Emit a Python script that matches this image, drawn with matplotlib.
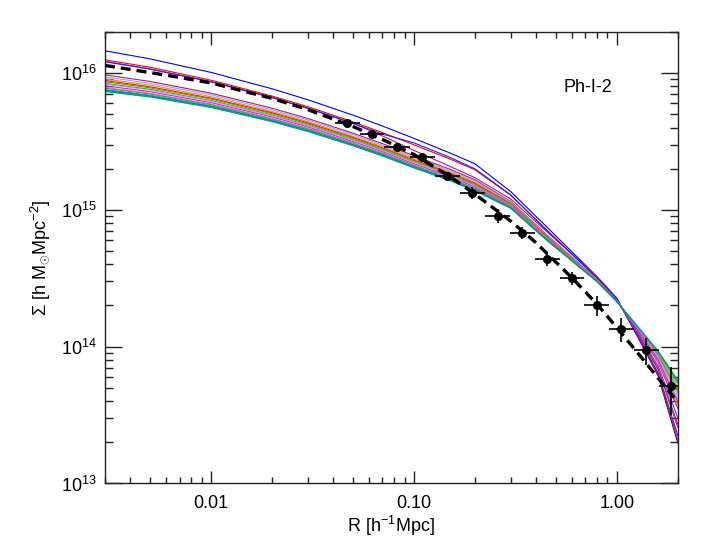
import numpy as np
import matplotlib
matplotlib.use("Agg")
import matplotlib.pyplot as plt
from matplotlib.ticker import FixedLocator, FixedFormatter, LogLocator, NullFormatter

plt.rcParams['font.family'] = ['Liberation Sans', 'DejaVu Sans']
plt.rcParams['mathtext.fontset'] = 'custom'
plt.rcParams['mathtext.rm'] = 'Liberation Sans'
plt.rcParams['mathtext.it'] = 'Liberation Sans:italic'

# ------------------------------
# data: stacked lensing profile
# ------------------------------
# measured points (R in h^-1 Mpc, Sigma in h Msun Mpc^-2)
r_pts = [0.047, 0.062, 0.083, 0.110, 0.146, 0.194, 0.260, 0.342,
         0.454, 0.603, 0.798, 1.054, 1.40, 1.86]
r_lo = [0.0408, 0.0540, 0.0716, 0.0955, 0.127, 0.169, 0.224, 0.298,
        0.394, 0.524, 0.693, 0.918, 1.216, 1.611]
r_hi = [0.0540, 0.0716, 0.0955, 0.127, 0.169, 0.224, 0.298, 0.394,
        0.524, 0.693, 0.918, 1.216, 1.611, 2.138]
sig_pts = [4.33e15, 3.58e15, 2.90e15, 2.45e15, 1.77e15, 1.33e15, 9.08e14,
           6.76e14, 4.36e14, 3.16e14, 2.02e14, 1.35e14, 9.46e13, 5.15e13]
sig_err = [2.2e14, 1.8e14, 1.5e14, 1.6e14, 1.2e14, 1.3e14, 1.0e14,
           6.8e13, 4.9e13, 3.5e13, 3.4e13, 2.7e13, 2.1e13, 2.0e13]

# best fit (dashed), log10 Sigma
r_fit = [0.003, 0.006, 0.01, 0.02, 0.03, 0.05, 0.07, 0.1, 0.15, 0.2,
         0.3, 0.4, 0.6, 0.8, 1.0, 1.3, 1.6, 2.0]
logsig_fit = [16.056, 15.985, 15.928, 15.815, 15.733, 15.610, 15.515,
              15.405, 15.245, 15.115, 14.918, 14.760, 14.505, 14.310,
              14.140, 13.935, 13.770, 13.595]

# simulated haloes, log10 Sigma at r_sim
r_sim = [0.003, 0.005, 0.01, 0.02, 0.03, 0.05, 0.07, 0.1, 0.15, 0.2,
         0.3, 0.45, 0.6, 0.8, 1.0, 1.3, 1.6, 2.0]
sim_colors = ['#0000ff', '#ff0000', '#a0208f', '#2020ff', '#a02080',
              '#9a9aff', '#ff8c00', '#e02020', '#8a8a00', '#00c000',
              '#b4a0ff', '#ff00ff', '#ff70c0', '#20c020', '#00b4b4',
              '#3050ff', '#00d000', '#208c8c']
sim_logsig = [
    [16.163, 16.104, 16.005, 15.885, 15.805, 15.693, 15.613, 15.523, 15.417, 15.337, 15.134, 14.878, 14.695, 14.512, 14.356, 14.042, 13.786, 13.296],
    [16.097, 16.043, 15.948, 15.832, 15.754, 15.644, 15.565, 15.476, 15.373, 15.293, 15.107, 14.856, 14.680, 14.504, 14.352, 14.046, 13.795, 13.319],
    [16.086, 16.031, 15.938, 15.823, 15.745, 15.634, 15.540, 15.435, 15.319, 15.235, 15.079, 14.844, 14.678, 14.502, 14.348, 14.068, 13.841, 13.434],
    [16.083, 16.029, 15.936, 15.820, 15.742, 15.633, 15.554, 15.490, 15.385, 15.300, 15.110, 14.852, 14.677, 14.502, 14.351, 14.052, 13.808, 13.351],
    [15.987, 15.939, 15.853, 15.743, 15.668, 15.561, 15.484, 15.396, 15.298, 15.220, 15.062, 14.820, 14.656, 14.490, 14.341, 14.090, 13.886, 13.549],
    [15.972, 15.925, 15.841, 15.731, 15.657, 15.550, 15.473, 15.385, 15.288, 15.210, 15.056, 14.815, 14.652, 14.488, 14.338, 14.103, 13.913, 13.618],
    [15.957, 15.912, 15.828, 15.719, 15.645, 15.538, 15.462, 15.374, 15.278, 15.200, 15.050, 14.810, 14.649, 14.487, 14.339, 14.094, 13.895, 13.572],
    [15.946, 15.900, 15.817, 15.710, 15.636, 15.530, 15.453, 15.365, 15.270, 15.193, 15.045, 14.807, 14.646, 14.485, 14.343, 14.064, 13.832, 13.411],
    [15.937, 15.892, 15.810, 15.703, 15.629, 15.523, 15.447, 15.359, 15.264, 15.187, 15.041, 14.804, 14.644, 14.484, 14.335, 14.112, 13.932, 13.664],
    [15.925, 15.881, 15.799, 15.693, 15.619, 15.514, 15.438, 15.350, 15.255, 15.179, 15.036, 14.800, 14.641, 14.482, 14.334, 14.116, 13.941, 13.687],
    [15.919, 15.875, 15.794, 15.688, 15.615, 15.509, 15.433, 15.346, 15.251, 15.175, 15.034, 14.798, 14.640, 14.482, 14.335, 14.107, 13.923, 13.641],
    [15.907, 15.864, 15.784, 15.679, 15.606, 15.500, 15.425, 15.337, 15.243, 15.167, 15.029, 14.794, 14.637, 14.480, 14.336, 14.099, 13.904, 13.595],
    [15.895, 15.853, 15.774, 15.669, 15.596, 15.491, 15.416, 15.329, 15.235, 15.159, 15.024, 14.790, 14.635, 14.479, 14.332, 14.120, 13.950, 13.710],
    [15.889, 15.847, 15.769, 15.664, 15.592, 15.487, 15.412, 15.324, 15.231, 15.155, 15.022, 14.788, 14.633, 14.478, 14.331, 14.125, 13.959, 13.733],
    [15.880, 15.839, 15.761, 15.657, 15.585, 15.480, 15.405, 15.318, 15.225, 15.149, 15.018, 14.785, 14.631, 14.477, 14.330, 14.127, 13.964, 13.747],
    [15.874, 15.833, 15.756, 15.652, 15.580, 15.476, 15.401, 15.314, 15.221, 15.145, 15.016, 14.783, 14.630, 14.476, 14.338, 14.077, 13.859, 13.480],
    [15.865, 15.825, 15.748, 15.645, 15.573, 15.469, 15.394, 15.307, 15.215, 15.139, 15.012, 14.780, 14.628, 14.475, 14.329, 14.129, 13.968, 13.756],
    [15.868, 15.828, 15.751, 15.647, 15.575, 15.471, 15.396, 15.309, 15.217, 15.141, 15.013, 14.781, 14.629, 14.475, 14.330, 14.126, 13.963, 13.742],
]

x_ticks = [0.01, 0.1, 1.0]
x_ticklabels = ['0.01', '0.10', '1.00']

# ------------------------------
# plot
# ------------------------------
fig = plt.figure(figsize=(7.09, 5.5), dpi=100)
ax = fig.add_axes([0.148, 0.121, 0.808, 0.821])

for c, vals in zip(sim_colors, sim_logsig):
    ax.plot(r_sim, 10 ** np.array(vals), color=c, lw=0.8, zorder=2)

ax.plot(r_fit, 10 ** np.array(logsig_fit), color='black', lw=2.4,
        dashes=(3.0, 1.8), zorder=3)

r_pts_a = np.array(r_pts)
xerr = [r_pts_a - np.array(r_lo), np.array(r_hi) - r_pts_a]
ax.errorbar(r_pts, sig_pts, xerr=xerr, yerr=sig_err, fmt='o', color='black',
            ms=5.5, elinewidth=1.2, capsize=0, zorder=4)

ax.set_xscale('log')
ax.set_yscale('log')
ax.set_xlim(0.003, 2.0)
ax.set_ylim(1e13, 2e16)

ax.xaxis.set_major_locator(FixedLocator(x_ticks))
ax.xaxis.set_major_formatter(FixedFormatter(x_ticklabels))
ax.xaxis.set_minor_locator(LogLocator(base=10, subs=np.arange(2, 10)))
ax.xaxis.set_minor_formatter(NullFormatter())
ax.yaxis.set_minor_locator(LogLocator(base=10, subs=np.arange(2, 10)))
ax.yaxis.set_minor_formatter(NullFormatter())

ax.tick_params(which='both', direction='in', top=True, right=True,
               labelsize=13, width=1.0, colors='#222222', labelcolor='black')
ax.tick_params(axis='x', which='major', length=9, pad=8)
ax.tick_params(axis='x', which='minor', length=4.5)
ax.tick_params(axis='y', which='major', length=12, pad=6)
ax.tick_params(axis='y', which='minor', length=6)
for s in ax.spines.values():
    s.set_linewidth(1.0)
    s.set_color('#222222')

ax.set_xlabel(r'R [h$^{-1}$Mpc]', fontsize=13, labelpad=2)
ax.set_ylabel(r'Σ [h M$_{\odot}$Mpc$^{-2}$]', fontsize=13, labelpad=6)

ax.text(0.80, 0.876, 'Ph-I-2', transform=ax.transAxes, fontsize=13,
        ha='left', va='center')

plt.savefig("out.png", dpi=100)
